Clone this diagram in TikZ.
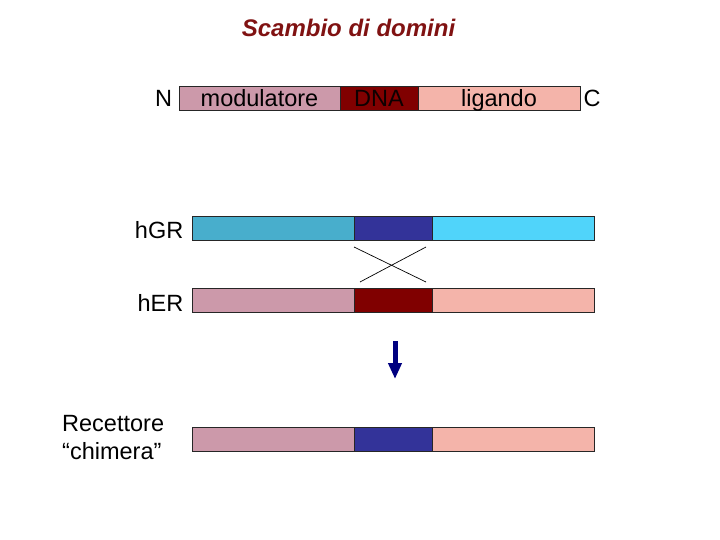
\documentclass[tikz,border=0pt]{standalone}
\usepackage{fontspec}
\setmainfont{Liberation Sans}
\usetikzlibrary{arrows.meta}
\definecolor{titlered}{RGB}{128,18,18}
\definecolor{mauve}{RGB}{204,153,170}
\definecolor{maroon}{RGB}{128,0,0}
\definecolor{salmon}{RGB}{244,180,170}
\definecolor{tealblue}{RGB}{72,174,204}
\definecolor{navyseg}{RGB}{51,51,153}
\definecolor{skyblue}{RGB}{80,212,250}
\definecolor{arrownavy}{RGB}{0,0,128}
\tikzset{
  seg/.style={draw=black!85, line width=0.8pt, rectangle, inner sep=0pt, anchor=north west, minimum height=24pt},
  lbl/.style={font=\fontsize{23.5}{28}\selectfont, inner sep=0pt},
  crossline/.style={draw=black, line width=0.7pt}
}
\begin{document}
\begin{tikzpicture}[x=1pt,y=-1pt]
\useasboundingbox (0,0) rectangle (720,540);
% title
\node[font=\fontsize{24}{28}\selectfont\bfseries\itshape, text=titlered, anchor=base, inner sep=0pt] (title) at (348.5,37) {Scambio di domini};
% top bar
\node[seg, fill=mauve, minimum width=161pt] (mod) at (179,86) {};
\node[seg, fill=maroon, minimum width=78pt] (dna) at (340,86) {};
\node[seg, fill=salmon, minimum width=162pt] (lig) at (418,86) {};
\node[lbl, anchor=base] (modt) at (259.5,107) {modulatore};
\node[lbl, anchor=base, text=black!90!maroon] (dnat) at (379,107) {DNA};
\node[lbl, anchor=base] (ligt) at (499,107) {ligando};
\node[lbl, anchor=base] (nt) at (163.5,107) {N};
\node[lbl, anchor=base] (ct) at (592,107) {C};
% hGR
\node[seg, fill=tealblue, minimum width=162pt] (gr1) at (192,216) {};
\node[seg, fill=navyseg, minimum width=78pt] (gr2) at (354,216) {};
\node[seg, fill=skyblue, minimum width=162pt] (gr3) at (432,216) {};
\node[lbl, anchor=base east] (grt) at (183.5,239) {hGR};
% hER
\node[seg, fill=mauve, minimum width=162pt] (er1) at (192,288) {};
\node[seg, fill=maroon, minimum width=78pt] (er2) at (354,288) {};
\node[seg, fill=salmon, minimum width=162pt] (er3) at (432,288) {};
\node[lbl, anchor=base east] (ert) at (183.5,311) {hER};
% cross
\coordinate (xa) at (354,247);
\coordinate (xb) at (426,282);
\coordinate (xc) at (426,247);
\coordinate (xd) at (360,282);
\draw[crossline] (xa) -- (xb);
\draw[crossline] (xc) -- (xd);
% arrow
\coordinate (arrtop) at (395,341);
\coordinate (arrbot) at (395,379);
\draw[arrownavy, line width=5pt, -{Triangle[width=13pt,length=16pt]}] (arrtop) -- (arrbot);
% chimera
\node[seg, fill=mauve, minimum width=162pt] (ch1) at (192,427) {};
\node[seg, fill=navyseg, minimum width=78pt] (ch2) at (354,427) {};
\node[seg, fill=salmon, minimum width=162pt] (ch3) at (432,427) {};
\node[lbl, anchor=base west] (cht1) at (62,431) {Recettore};
\node[lbl, anchor=base west] (cht2) at (62,459) {“chimera”};
\end{tikzpicture}
\end{document}
